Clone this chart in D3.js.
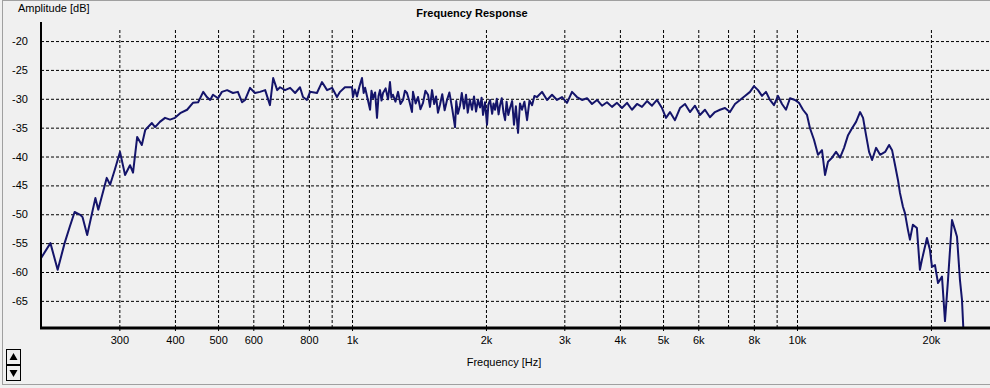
<!DOCTYPE html>
<html>
<head>
<meta charset="utf-8">
<script src="https://cdn.jsdelivr.net/npm/d3@7"></script>
<style>
  body { margin: 0; background: #f0f0f0; }
  svg { display: block; font-family: "Liberation Sans", Arial, sans-serif; }
  .grid line { stroke: #000; stroke-dasharray: 3,2; }
  .grid path { display: none; }
  .lbl path, .lbl line { display: none; }
  .lbl text { font-size: 11px; fill: #000; }
</style>
</head>
<body>
<script>
// size of the window
var w = 990;
var h = 388;

// measured response, [frequency Hz, amplitude dB]
const response = [
  [200, -57.6], [210, -55.0], [218, -59.6], [226, -55.0], [232, -52.2], [238, -49.6],
  [245, -50.1], [248, -50.5], [254, -53.6], [265, -47.2], [269, -49.2], [281, -43.7],
  [286, -44.9], [293, -42.3], [301, -39.2], [309, -43.2], [317, -41.5], [322, -42.8],
  [329, -36.6], [337, -38.0], [343, -35.4], [355, -34.2], [361, -34.9], [370, -34.0],
  [380, -33.3], [390, -33.6], [400, -33.3], [411, -32.5], [426, -31.9], [439, -30.7],
  [451, -30.6], [463, -28.8], [472, -29.7], [480, -30.2], [487, -29.3], [500, -29.9],
  [510, -28.8], [524, -28.5], [540, -29.0], [554, -28.8], [566, -30.6], [575, -30.2],
  [590, -28.1], [605, -29.0], [621, -28.8], [638, -28.5], [654, -31.1], [665, -26.4],
  [679, -28.5], [689, -28.0], [707, -28.5], [726, -28.1], [745, -29.0], [764, -28.0],
  [776, -29.7], [792, -30.2], [805, -28.8], [834, -29.0], [856, -27.1], [879, -28.5],
  [902, -28.1], [925, -29.7], [940, -28.8], [964, -28.0], [1000, -28.0], [1005, -29.7],
  [1015, -28.4], [1026, -29.6], [1040, -27.8], [1053, -26.4], [1062, -29.0], [1070, -28.1],
  [1084, -30.0], [1098, -31.9], [1106, -28.6], [1115, -29.9], [1127, -28.9], [1138, -33.3],
  [1147, -29.5], [1156, -28.5], [1165, -30.3], [1174, -29.0], [1190, -28.2], [1205, -30.1],
  [1217, -27.1], [1226, -29.8], [1236, -29.3], [1252, -30.5], [1269, -28.8], [1285, -30.9],
  [1302, -30.2], [1315, -28.6], [1329, -29.0], [1345, -30.4], [1364, -32.3], [1371, -28.8],
  [1390, -30.8], [1407, -29.7], [1425, -31.8], [1444, -30.7], [1462, -28.6], [1482, -29.3],
  [1497, -31.4], [1513, -28.5], [1530, -30.9], [1545, -29.6], [1560, -32.4], [1577, -31.0],
  [1595, -29.2], [1615, -32.0], [1635, -30.2], [1655, -28.9], [1680, -31.8], [1704, -34.9],
  [1715, -30.4], [1730, -32.6], [1749, -31.1], [1765, -29.0], [1785, -31.7], [1804, -29.3],
  [1820, -32.4], [1840, -30.1], [1861, -31.9], [1880, -29.6], [1900, -32.2], [1919, -30.2],
  [1940, -31.5], [1955, -29.8], [1970, -32.8], [1990, -30.6], [2011, -34.5], [2025, -31.0],
  [2043, -30.2], [2065, -32.6], [2080, -30.8], [2096, -31.9], [2115, -30.0], [2135, -32.7],
  [2151, -31.1], [2170, -29.9], [2190, -32.4], [2208, -33.7], [2225, -30.5], [2245, -32.8],
  [2265, -31.6], [2290, -30.4], [2312, -34.5], [2335, -31.3], [2361, -35.9], [2385, -30.8],
  [2410, -31.9], [2440, -30.5], [2474, -33.7], [2505, -30.3], [2539, -31.1], [2570, -29.5],
  [2605, -29.7], [2673, -28.8], [2744, -30.2], [2815, -29.3],
  [2889, -30.2], [2965, -29.7], [3042, -30.7], [3122, -28.8], [3203, -29.7], [3287, -30.2],
  [3374, -29.9], [3462, -30.9], [3553, -30.2], [3646, -31.2], [3741, -30.6], [3839, -31.4],
  [3940, -30.7], [4043, -31.6], [4150, -30.7], [4258, -31.9], [4370, -30.9], [4484, -31.4],
  [4602, -30.4], [4722, -31.2], [4846, -30.2], [4973, -31.6], [5077, -33.3], [5183, -32.3],
  [5318, -33.7], [5459, -31.6], [5602, -30.9], [5748, -32.3], [5899, -31.2], [6053, -32.8],
  [6212, -31.9], [6374, -33.2], [6541, -32.3], [6714, -31.9], [6890, -31.6], [7069, -32.3],
  [7256, -30.9], [7446, -30.2], [7640, -29.5], [7842, -28.8], [8006, -27.8], [8174, -28.5],
  [8343, -29.5], [8518, -28.8], [8696, -30.2], [8878, -31.1], [9064, -29.5], [9254, -30.9],
  [9447, -31.9], [9645, -29.9], [9897, -30.2], [10104, -30.7], [10316, -31.9], [10532, -32.8],
  [10696, -35.1], [10920, -37.1], [11149, -39.7], [11382, -38.9], [11561, -43.2], [11742, -40.9],
  [11988, -40.2], [12239, -39.2], [12495, -40.2], [12757, -38.5], [13024, -36.3], [13297, -35.1],
  [13575, -34.0], [13859, -32.3], [14076, -33.3], [14296, -36.3], [14521, -39.2], [14748, -40.6],
  [15058, -38.5], [15373, -39.7], [15776, -39.2], [16106, -38.0], [16357, -38.9], [16613, -41.5],
  [16866, -44.1], [17038, -46.3], [17304, -48.7], [17484, -49.8], [17756, -52.7], [17941, -54.4],
  [18218, -51.8], [18600, -52.4], [18890, -59.6], [19088, -57.9], [19593, -54.1], [19901, -56.2],
  [20109, -59.1], [20423, -58.8], [20745, -61.9], [21177, -60.8], [21509, -68.5], [21846, -61.4],
  [22304, -51.0], [22652, -52.7], [22888, -53.9], [23242, -61.4], [23484, -64.8], [23726, -72.0]
];

// axis ticks
const yTicks = [-20, -25, -30, -35, -40, -45, -50, -55, -60, -65];
const xGrid = [300, 400, 500, 600, 700, 800, 900, 1000, 2000, 3000, 4000, 5000,
               6000, 7000, 8000, 9000, 10000, 20000];
const xTicks = [300, 400, 500, 600, 800, 1000, 2000, 3000, 4000, 5000, 6000, 8000, 10000, 20000];
const xTickLabels = ["300", "400", "500", "600", "800", "1k", "2k", "3k", "4k", "5k", "6k", "8k", "10k", "20k"];

// plot area
const pLeft = 41, pRight = 990, pTop = 22, pBottom = 328;

const xScale = d3.scaleLog()
                .domain([200, 27150])
                .range([pLeft, pRight]);

const yScale = d3.scaleLinear()
                .domain([-69.7, -16.7])
                .range([pBottom, pTop]);

const svg = d3.select("body")
              .append("svg")
                .attr("width", w)
                .attr("height", h);

// window frame
svg.append("rect")
  .attr("x", 2.5).attr("y", 0.5)
  .attr("width", w).attr("height", 384)
  .attr("fill", "none")
  .attr("stroke", "#a0a0a0");

// grid lines
svg.append("g")
  .attr("class", "grid")
  .attr("transform", `translate(0, ${pBottom})`)
  .call(d3.axisBottom(xScale).tickValues(xGrid).tickSize(-(pBottom - 28)).tickFormat(""));

svg.append("g")
  .attr("class", "grid")
  .attr("transform", `translate(${pLeft}, 0)`)
  .call(d3.axisLeft(yScale).tickValues(yTicks).tickSize(-(pRight - pLeft)).tickFormat(""));

// small tick marks below the axis
svg.append("g")
  .attr("class", "grid")
  .attr("transform", `translate(0, ${pBottom})`)
  .call(d3.axisBottom(xScale).tickValues(xTicks).tickSize(5).tickFormat(""));

// tick labels
svg.append("g")
  .attr("class", "lbl")
  .attr("transform", `translate(0, ${pBottom})`)
  .call(d3.axisBottom(xScale).tickValues(xTicks).tickSize(5).tickPadding(3)
          .tickFormat((d, i) => xTickLabels[i]));

svg.append("g")
  .attr("class", "lbl")
  .attr("transform", `translate(${pLeft}, 0)`)
  .call(d3.axisLeft(yScale).tickValues(yTicks).tickSize(0).tickPadding(13)
          .tickFormat(d => d));

// the curve
svg.append("clipPath")
  .attr("id", "plot")
  .append("rect")
    .attr("x", pLeft).attr("y", pTop)
    .attr("width", pRight - pLeft).attr("height", pBottom - pTop);

const line = d3.line()
  .x(d => xScale(d[0]))
  .y(d => yScale(d[1]));

svg.append("path")
  .datum(response)
  .attr("clip-path", "url(#plot)")
  .attr("d", line)
  .attr("fill", "none")
  .attr("stroke", "#14146a")
  .attr("stroke-width", 2)
  .attr("stroke-linejoin", "round");

// axis lines
svg.append("line")
  .attr("x1", pLeft).attr("x2", pLeft)
  .attr("y1", pTop).attr("y2", pBottom + 1)
  .attr("stroke", "#000").attr("stroke-width", 2);

svg.append("line")
  .attr("x1", pLeft - 1).attr("x2", pRight)
  .attr("y1", pBottom).attr("y2", pBottom)
  .attr("stroke", "#000").attr("stroke-width", 3);

// titles
svg.append("text")
  .attr("x", 472).attr("y", 17)
  .attr("text-anchor", "middle")
  .attr("font-size", 11).attr("font-weight", "bold")
  .text("Frequency Response");

svg.append("text")
  .attr("x", 18).attr("y", 12)
  .attr("font-size", 11)
  .text("Amplitude [dB]");

svg.append("text")
  .attr("x", 504).attr("y", 366)
  .attr("text-anchor", "middle")
  .attr("font-size", 11)
  .text("Frequency [Hz]");

// scroll buttons
const btn = svg.append("g").attr("transform", "translate(6, 349)");
btn.append("rect").attr("x", 0.5).attr("y", 0.5).attr("width", 14).attr("height", 15)
  .attr("fill", "#f0f0f0").attr("stroke", "#000");
btn.append("rect").attr("x", 0.5).attr("y", 16.5).attr("width", 14).attr("height", 15)
  .attr("fill", "#f0f0f0").attr("stroke", "#000");
btn.append("path").attr("d", "M3.5,11 L11.5,11 L7.5,4 Z").attr("fill", "#000");
btn.append("path").attr("d", "M3.5,21 L11.5,21 L7.5,28 Z").attr("fill", "#000");
</script>
</body>
</html>
